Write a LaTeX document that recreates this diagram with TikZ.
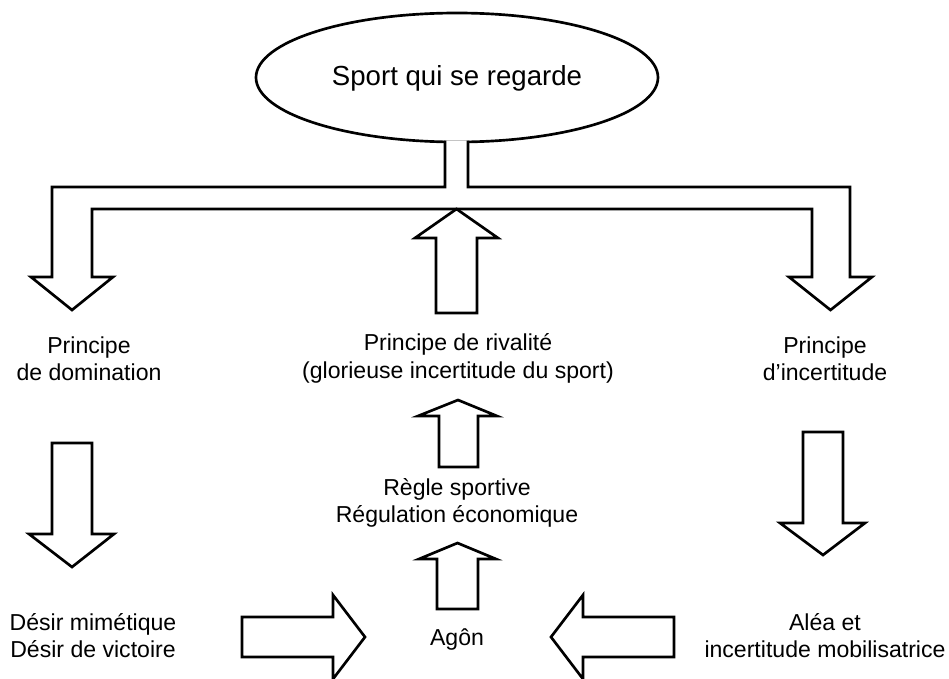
\documentclass[tikz,border=0pt]{standalone}
\usepackage{fontspec}
\setmainfont{Liberation Sans}
\usepackage{tikz}

\begin{document}
\begin{tikzpicture}[x=0.75pt,y=0.75pt,yscale=-1,xscale=1,
  blk/.style={line width=2pt,fill=white,line join=miter},
  lbl/.style={align=center,inner sep=0.75pt,font=\fontsize{17.3}{20.6}\selectfont}]
\useasboundingbox (0,0) rectangle (949,678);

%Shape: Ellipse
\draw [line width=2pt,fill=white] (457,77.5) ellipse [x radius=201, y radius=64.5];
%Shape: T Arrow (stem, bar, two heads)
\draw [blk] (445,140.5) -- (445,187) -- (52,187) -- (52,277) -- (31,277) -- (72,310) -- (113,277) -- (92,277) -- (92,209) -- (812,209) -- (812,277) -- (789,277) -- (830.5,310) -- (872,277) -- (850,277) -- (850,187) -- (468,187) -- (468,140.5) ;
%Shape: Up Arrow
\draw [blk] (436,313) -- (436,238) -- (415,238) -- (456.5,209) -- (498,238) -- (477,238) -- (477,313) -- cycle ;
%Shape: Up Arrow
\draw [blk] (439,467) -- (439,416) -- (418,416) -- (458,400) -- (497,416) -- (478,416) -- (478,467) -- cycle ;
%Shape: Up Arrow
\draw [blk] (437,609) -- (437,559) -- (419,559) -- (457.5,543) -- (496,559) -- (478,559) -- (478,609) -- cycle ;
%Shape: Down Arrow
\draw [blk] (52,443) -- (92,443) -- (92,534) -- (114,534) -- (72,567) -- (29,534) -- (52,534) -- cycle ;
%Shape: Down Arrow
\draw [blk] (803,432) -- (843,432) -- (843,523) -- (865,523) -- (823,555) -- (780,523) -- (803,523) -- cycle ;
%Shape: Right Arrow
\draw [blk] (242,617) -- (333,617) -- (333,595) -- (365,637) -- (333,679) -- (333,657) -- (242,657) -- cycle ;
%Shape: Left Arrow
\draw [blk] (674,617) -- (583,617) -- (583,595) -- (551,637) -- (583,679) -- (583,657) -- (674,657) -- cycle ;

% Text Node
\draw (457,78) node (title) [lbl,font=\fontsize{20.7}{24}\selectfont] {Sport qui se regarde};
% Text Node
\draw (89,358.5) node (domination) [lbl] {Principe\\de domination};
% Text Node
\draw (458,358.5) node (rivalite) [lbl] {Principe de rivalité\\(glorieuse incertitude du sport)};
% Text Node
\draw (825,358.5) node (incertitude) [lbl] {Principe\\d’incertitude};
% Text Node
\draw (457,503) node (regle) [lbl] {Règle sportive\\Régulation économique};
% Text Node
\draw (93,635.5) node (desir) [lbl] {Désir mimétique\\Désir de victoire};
% Text Node
\draw (457,639) node (agon) [lbl] {Agôn};
% Text Node
\draw (825,635.5) node (alea) [lbl] {Aléa et\\incertitude mobilisatrice};

\end{tikzpicture}
\end{document}
